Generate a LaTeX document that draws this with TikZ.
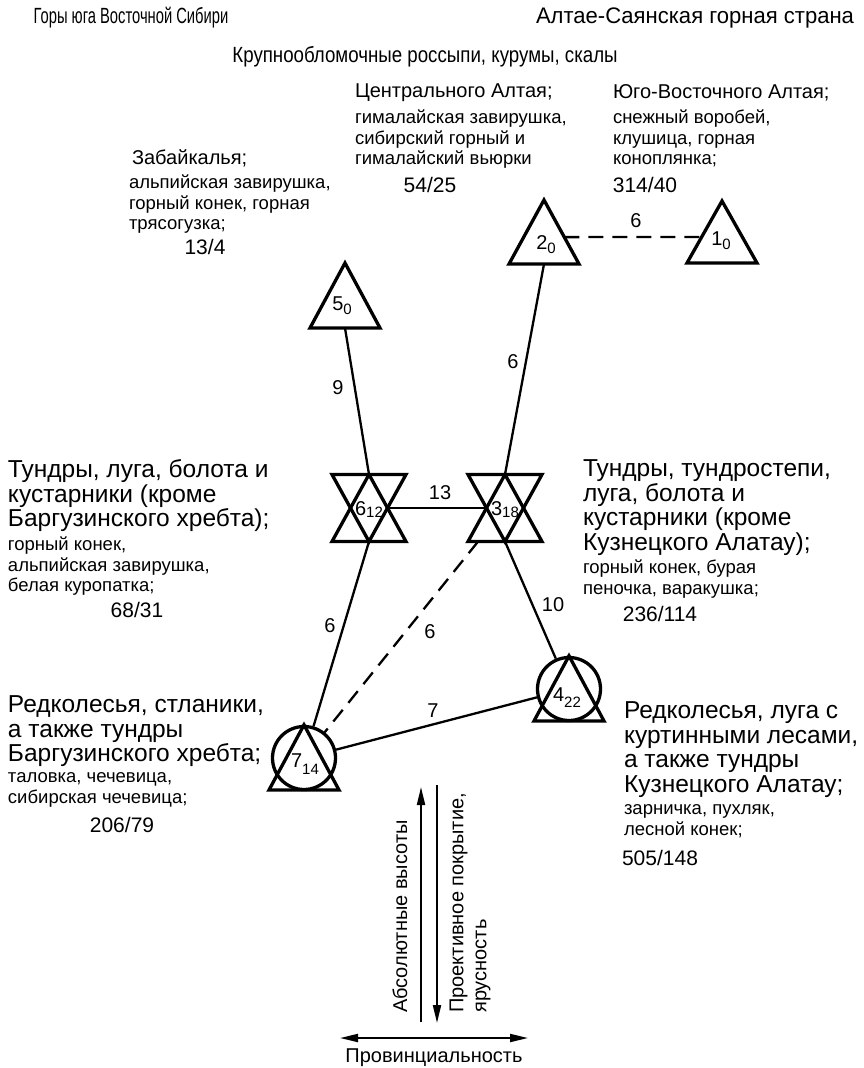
\documentclass[tikz,border=0pt]{standalone}
\usepackage{fontspec}
\setmainfont{Liberation Sans}
\newfontfamily\hdfontA[FakeStretch=0.67]{Liberation Sans}
\newfontfamily\hdfontB[FakeStretch=0.85]{Liberation Sans}
\newfontfamily\hdfontC[FakeStretch=0.98]{Liberation Sans}
\usetikzlibrary{calc,arrows.meta}
\newcommand\fzone{\fontsize{24.5}{24.5}\selectfont}
\newcommand\ftitle{\fontsize{20}{22}\selectfont}
\newcommand\fsp{\fontsize{18.5}{20.3}\selectfont}
\newcommand\fnum{\fontsize{21}{22}\selectfont}
\newcommand\lab[3][-4pt]{\fontsize{20}{20}\selectfont #2\raisebox{#1}{\fontsize{15}{15}\selectfont #3}}
\tikzset{
  shp/.style={draw=none, rectangle, inner sep=0pt, outer sep=0pt},
  sym/.style={line width=3.3pt, line join=miter},
  con/.style={line width=2.3pt},
  dsh/.style={line width=2.3pt, dash pattern=on 15pt off 9pt},
  txt/.style={inner sep=0pt, outer sep=0pt, align=left},
  num/.style={inner sep=0pt, outer sep=0pt, font=\fnum},
  elab/.style={inner sep=0pt, font=\ftitle},
  hd/.style={inner sep=0pt, outer sep=0pt},
  ax/.style={line width=2pt},
  tip/.tip={Triangle[length=18pt,width=8pt]}
}
\begin{document}
\begin{tikzpicture}[x=1pt,y=-1pt]
\useasboundingbox (0,0) rectangle (863,1068);
% headers
\node[hd, font=\hdfontA\fontsize{22}{24}\selectfont] (h1) at (131,18) {Горы юга Восточной Сибири};
\node[hd, font=\hdfontC\fontsize{22.5}{24}\selectfont] (h2) at (695,18) {Алтае-Саянская горная страна};
\node[hd, font=\hdfontB\fontsize{22}{24}\selectfont] (h3) at (425,57) {Крупнообломочные россыпи, курумы, скалы};

% top texts
\node[txt, anchor=west, font=\ftitle] (tZ) at (132,158) {Забайкалья;};
\node[txt, anchor=north west, font=\fsp] (sZ) at (129,175) {альпийская завирушка,\\горный конек, горная\\трясогузка;};
\node[num] (nZ) at (205,247) {13/4};

\node[txt, anchor=west, font=\ftitle] (tC) at (355,93) {Центрального Алтая;};
\node[txt, anchor=north west, font=\fsp] (sC) at (355,110) {гималайская завирушка,\\сибирский горный и\\гималайский вьюрки};
\node[num] (nC) at (430,185) {54/25};

\node[txt, anchor=west, font=\ftitle] (tY) at (613,93) {Юго-Восточного Алтая;};
\node[txt, anchor=north west, font=\fsp] (sY) at (613,110) {снежный воробей,\\клушица, горная\\коноплянка;};
\node[num] (nY) at (645,185) {314/40};

% middle texts
\node[txt, anchor=north west, font=\fzone] (zL) at (8,460) {Тундры, луга, болота и\\кустарники (кроме\\Баргузинского хребта);};
\node[txt, anchor=north west, font=\fsp] (sL) at (8,537) {горный конек,\\альпийская завирушка,\\белая куропатка;};
\node[num] (nL) at (137,610) {68/31};

\node[txt, anchor=north west, font=\fzone] (zR) at (583,460) {Тундры, тундростепи,\\луга, болота и\\кустарники (кроме\\Кузнецкого Алатау);};
\node[txt, anchor=north west, font=\fsp] (sR) at (583,560) {горный конек, бурая\\пеночка, варакушка;};
\node[num] (nR) at (660,614) {236/114};

% bottom texts
\node[txt, anchor=north west, font=\fzone] (zBL) at (8,696) {Редколесья, стланики,\\а также тундры\\Баргузинского хребта;};
\node[txt, anchor=north west, font=\fsp] (sBL) at (8,773) {таловка, чечевица,\\сибирская чечевица;};
\node[num] (nBL) at (122,825) {206/79};

\node[txt, anchor=north west, font=\fzone] (zBR) at (624,702) {Редколесья, луга с\\куртинными лесами,\\а также тундры\\Кузнецкого Алатау;};
\node[txt, anchor=north west, font=\fsp] (sBR) at (624,805) {зарничка, пухляк,\\лесной конек;};
\node[num] (nBR) at (660,858) {505/148};

% symbols
\node[shp, minimum width=70pt, minimum height=62pt] (n1) at (722,232) {};
\draw[sym] (n1.north) -- (n1.south east) -- (n1.south west) -- cycle;
\node[shp, minimum width=70pt, minimum height=64pt] (n2) at (544,232) {};
\draw[sym] (n2.north) -- (n2.south east) -- (n2.south west) -- cycle;
\node[shp, minimum width=70pt, minimum height=65pt] (n5) at (345,295.5) {};
\draw[sym] (n5.north) -- (n5.south east) -- (n5.south west) -- cycle;

\node[shp, minimum width=74pt, minimum height=67pt] (n6) at (369,508) {};
\draw[sym] (n6.north west) -- (n6.north east) -- (n6.south) -- cycle;
\draw[sym] (n6.north) -- (n6.south east) -- (n6.south west) -- cycle;
\node[shp, minimum width=74pt, minimum height=67pt] (n3) at (505,508) {};
\draw[sym] (n3.north west) -- (n3.north east) -- (n3.south) -- cycle;
\draw[sym] (n3.north) -- (n3.south east) -- (n3.south west) -- cycle;

\node[circle, draw, line width=3.3pt, minimum size=63pt, inner sep=0pt] (n4) at (569,689) {};
\draw[sym] (n4.north) -- ($(n4.center)+(35,32)$) -- ($(n4.center)+(-35,32)$) -- cycle;
\node[circle, draw, line width=3.3pt, minimum size=63pt, inner sep=0pt] (n7) at (304,758) {};
\draw[sym] (n7.north) -- ($(n7.center)+(35,32)$) -- ($(n7.center)+(-35,32)$) -- cycle;

% symbol labels
\node[inner sep=0pt, anchor=base] (l1) at (721,245) {\lab{1}{0}};
\node[inner sep=0pt, anchor=base] (l2) at (546,249) {\lab{2}{0}};
\node[inner sep=0pt, anchor=base] (l5) at (342,310) {\lab{5}{0}};
\node[inner sep=0pt, anchor=base] (l6) at (369,515) {\lab[-2pt]{6}{12}};
\node[inner sep=0pt, anchor=base] (l3) at (505,515) {\lab[-2pt]{3}{18}};
\node[inner sep=0pt, anchor=base] (l4) at (567,701) {\lab[-6pt]{4}{22}};
\node[inner sep=0pt, anchor=base] (l7) at (305,767) {\lab[-7pt]{7}{14}};

% connectors
\draw[dsh] ($(n2.north)!0.58!(n2.south east)$) -- ($(n1.north)!0.58!(n1.south west)$);
\node[elab] (e21) at (636,221) {6};
\draw[con] (n5.south) -- (n6.north);
\node[elab] (e56) at (338,388) {9};
\draw[con] (n2.south) -- (n3.north);
\node[elab] (e23) at (513,362) {6};
\draw[con] ($(n6.center)!0.5!(n6.east)$) -- ($(n3.center)!0.5!(n3.west)$);
\node[elab] (e63) at (440,493) {13};
\draw[con] (n6.south) -- (n7);
\node[elab] (e67) at (330,626) {6};
\draw[con] (n3.south) -- (n4);
\node[elab] (e34) at (553,605) {10};
\draw[dsh] (n3) -- (n7);
\node[elab] (e37) at (430,632) {6};
\draw[con] (n7) -- (n4);
\node[elab] (e74) at (433,711) {7};

% axes
\coordinate (ua1) at (421,1022);
\coordinate (ua2) at (421,787);
\coordinate (da1) at (437,785);
\coordinate (da2) at (437,1023);
\coordinate (hl) at (340,1038);
\coordinate (hr) at (528,1038);
\draw[ax, -tip] (ua1) -- (ua2);
\draw[ax, -tip] (da1) -- (da2);
\draw[ax, tip-tip] (hl) -- (hr);
\node[inner sep=0pt, rotate=90, anchor=west, font=\ftitle] (abs) at (400,1013) {Абсолютные высоты};
\node[inner sep=0pt, rotate=90, anchor=north west, align=left, font=\fontsize{20}{23}\selectfont] (proj) at (449.5,1013) {Проективное покрытие,\\ярусность};
\node[inner sep=0pt, font=\ftitle] (prov) at (434,1058) {Провинциальность};
\end{tikzpicture}
\end{document}
